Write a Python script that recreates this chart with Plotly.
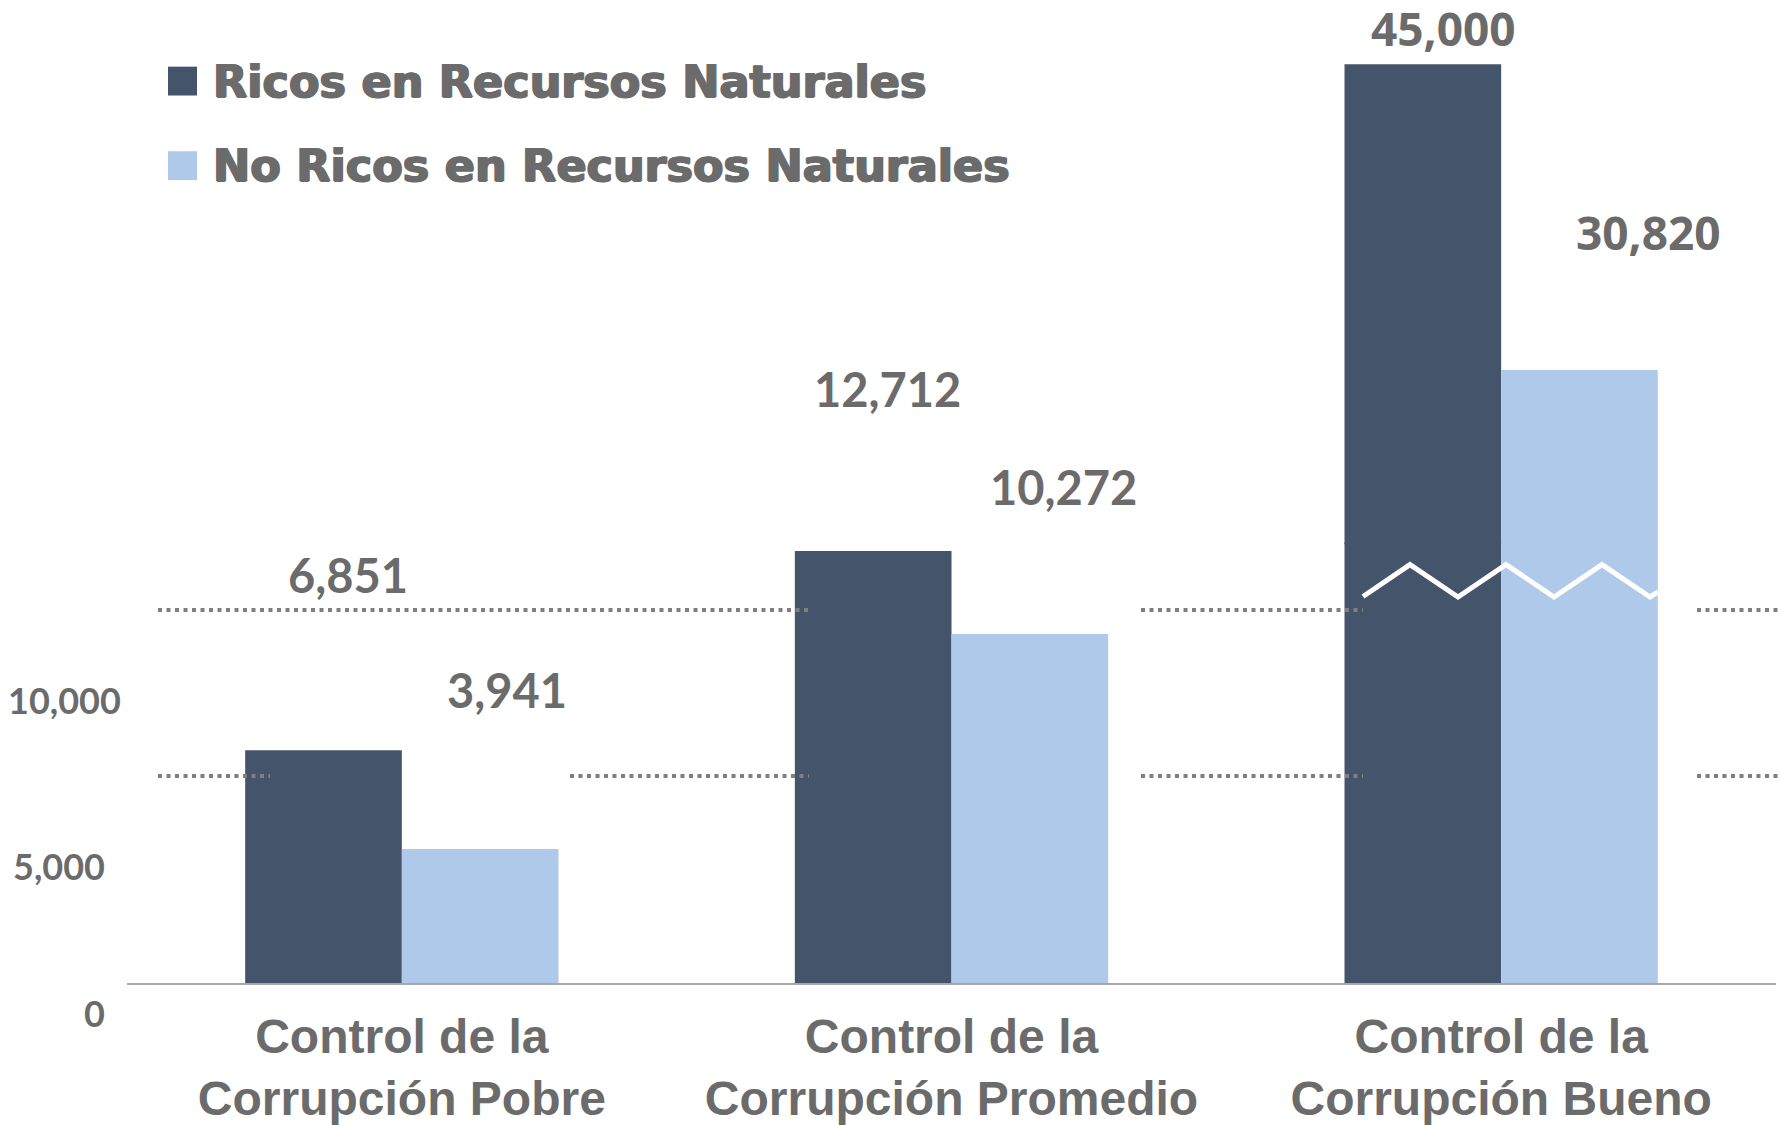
import plotly.graph_objects as go
from plotly.subplots import make_subplots

categories = ["Control de la<br>Corrupción Pobre",
              "Control de la<br>Corrupción Promedio",
              "Control de la<br>Corrupción Bueno"]
series_names = ["Ricos en Recursos Naturales", "No Ricos en Recursos Naturales"]
ricos = [6851, 12712, 45000]
no_ricos = [3941, 10272, 30820]
y_ticks = [0, 5000, 10000]
y_tick_text = ["0", "5,000", "10,000"]

DARK = "#44546a"
LIGHT = "#afc9ea"
GREY = "#6b6b6b"

W, H = 1781, 1125
L, R, T, B = 127, 5, 0, 137
PW, PH = W - L - R, H - T - B


def px(x):
    """pixel -> paper x"""
    return (x - L) / PW


def py(y):
    """pixel -> paper y"""
    return (H - B - y) / PH


# broken value axis: lower panel 0..12970, upper panel restarts at ~22842
# (upper panel reaches 2px below the join so the bars have no seam)
lower_share = 443 / PH
lower_range = [0, 12970]
upper_range = [22842 - 2 / 0.021686, 47974]
upper_domain = [lower_share - 2 / PH, 1]

fig = make_subplots(rows=2, cols=1, shared_xaxes=True, vertical_spacing=0,
                    row_heights=[1 - lower_share, lower_share])

for row in (1, 2):
    fig.add_trace(go.Bar(x=categories, y=ricos, name=series_names[0],
                         marker=dict(color=DARK, line_width=0), showlegend=False), row=row, col=1)
    fig.add_trace(go.Bar(x=categories, y=no_ricos, name=series_names[1],
                         marker=dict(color=LIGHT, line_width=0), showlegend=False), row=row, col=1)

fig.update_layout(
    width=W, height=H,
    margin=dict(l=L, r=R, t=T, b=B),
    paper_bgcolor="white", plot_bgcolor="rgba(0,0,0,0)",
    barmode="group", bargap=0.43, bargroupgap=0,
)

fig.update_xaxes(showgrid=False, ticks="", showticklabels=False, row=1, col=1)
fig.update_xaxes(showgrid=False, ticks="", showline=True, linecolor="#a6a6a6", linewidth=2,
                 ticklabelstandoff=10,
                 tickfont=dict(family="Liberation Sans, Arial", size=48, color=GREY, weight="bold"),
                 row=2, col=1)
fig.update_yaxes(range=upper_range, domain=upper_domain, visible=False, row=1, col=1)
fig.update_yaxes(range=lower_range, showgrid=False, zeroline=False, showticklabels=False, row=2, col=1)

# value labels
label_dx = [[-54, -64, -58], [105, 112, 147]]
label_dy = [[175, 162, 36], [159, 147, 138]]
for s, vals in enumerate([ricos, no_ricos]):
    for i, v in enumerate(vals):
        yref = "y2" if v <= lower_range[1] else "y"
        fam = "Open Sans" if i == 2 else "Lato"
        size = 46 if i == 2 else 47
        fig.add_annotation(x=categories[i], y=v, xref="x2", yref=yref,
                           text=f"{v:,}", showarrow=False,
                           xshift=label_dx[s][i], yshift=label_dy[s][i],
                           xanchor="center", yanchor="middle",
                           font=dict(family=fam, size=size, color=GREY, weight="bold"))

# y tick labels (drawn off the true tick positions, as in the original)
tick_dx = [-20, -20, -4]
tick_dy = [-30, -53, -57]
for v, t, dx, dy in zip(y_ticks, y_tick_text, tick_dx, tick_dy):
    fig.add_annotation(x=0, y=v, xref="paper", yref="y2", text=t, showarrow=False,
                       xanchor="right", yanchor="middle", xshift=dx, yshift=dy,
                       font=dict(family="Lato", size=36, color=GREY, weight="bold"))

# dotted reference lines (broken around the bars, as in the original)
grid_segments = {
    10979: [(158, 809), (1141, 1363), (1697, 1781)],
    6090: [(158, 270), (570, 809), (1141, 1363), (1697, 1781)],
}
for lvl, segs in grid_segments.items():
    for a, b in segs:
        fig.add_shape(type="line", xref="paper", yref="y2", x0=px(a), x1=px(b), y0=lvl, y1=lvl,
                      line=dict(color="#7f7f7f", width=4, dash="4px,4.5px"), layer="above")

# break marker over the tall bars
zig = [(1363, 599.5), (1410, 567.5), (1458, 600), (1506, 567.5),
       (1554, 600), (1602, 567.5), (1650, 600), (1658, 595)]
path = "M " + " L ".join(f"{px(x):.5f},{py(y):.5f}" for x, y in zig)
fig.add_shape(type="path", xref="paper", yref="paper", path=path,
              line=dict(color="white", width=5), layer="above")

# legend
legend_colors = [DARK, LIGHT]
legend_rows = [(67, 96), (152, 181)]
for name, col, (y0, y1) in zip(series_names, legend_colors, legend_rows):
    fig.add_shape(type="rect", xref="paper", yref="paper",
                  x0=px(168), x1=px(197), y0=py(y1), y1=py(y0),
                  fillcolor=col, line_width=0)
    fig.add_annotation(x=px(211), y=py((y0 + y1) / 2), xref="paper", yref="paper",
                       text=name, showarrow=False, xanchor="left", yanchor="middle",
                       font=dict(family="DejaVu Sans", size=44.5, color=GREY, weight="bold",
                                 shadow="1px 0 0 #6b6b6b, -1px 0 0 #6b6b6b, 0 1px 0 #6b6b6b"))

fig.write_html("out.html", config={"displayModeBar": False},
               post_script="document.body.style.margin = '0';")
